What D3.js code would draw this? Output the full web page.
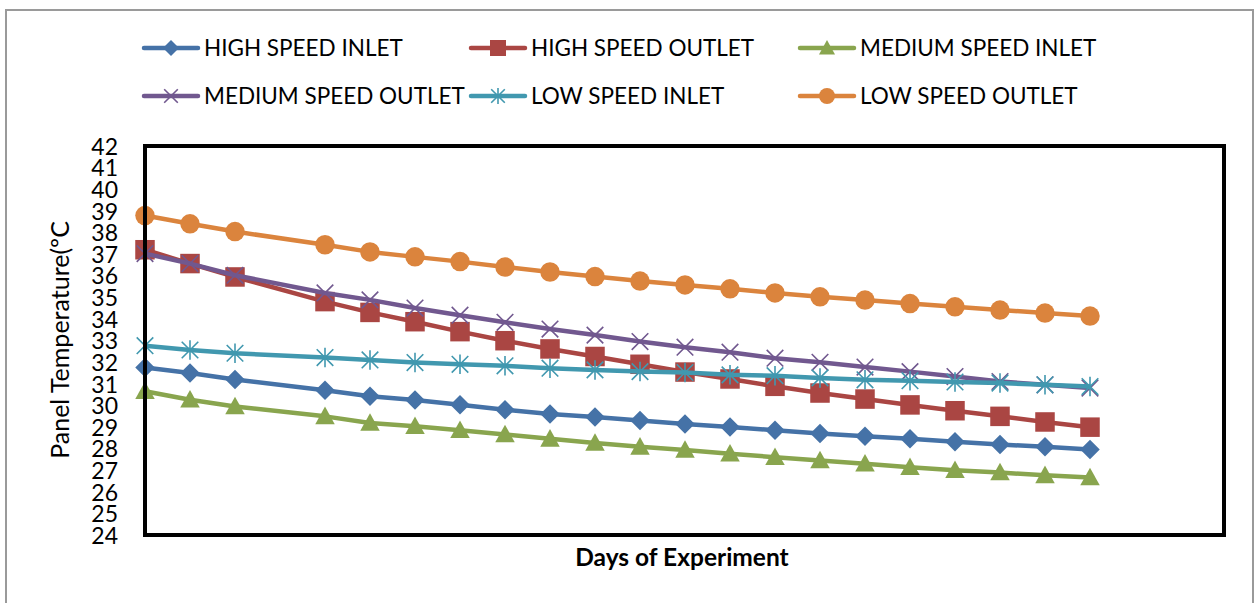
<!DOCTYPE html>
<html>
<head>
<meta charset="utf-8">
<script src="https://cdn.jsdelivr.net/npm/d3@7/dist/d3.min.js"></script>
<style>
  html, body { margin: 0; padding: 0; background: #ffffff; }
  svg { display: block; }
  text { font-family: Lato, "Open Sans", sans-serif; fill: #000; }
</style>
</head>
<body>
<svg id="chart" width="1259" height="603"></svg>
<script>
// Day categories along the horizontal axis (labels are not displayed)
const days = [1, 2, 3, 4, 5, 6, 7, 8, 9, 10, 11, 12, 13, 14, 15, 16, 17, 18, 19, 20, 21, 22, 23, 24, 25];

// Panel temperatures (ºC); day 4 has no reading
const highSpeedInlet    = [31.75, 31.5, 31.2, null, 30.7, 30.42, 30.25, 30.03, 29.8, 29.6, 29.46, 29.3, 29.14, 29.0, 28.85, 28.7, 28.57, 28.45, 28.31, 28.19, 28.08, 27.96];
const highSpeedOutlet   = [37.2, 36.56, 35.94, null, 34.8, 34.3, 33.87, 33.41, 32.99, 32.61, 32.26, 31.9, 31.54, 31.22, 30.88, 30.57, 30.29, 30.02, 29.75, 29.49, 29.23, 28.99];
const mediumSpeedInlet  = [30.65, 30.26, 29.95, null, 29.49, 29.18, 29.03, 28.85, 28.65, 28.45, 28.26, 28.08, 27.93, 27.76, 27.6, 27.45, 27.3, 27.14, 27.0, 26.89, 26.76, 26.66];
const mediumSpeedOutlet = [37.02, 36.56, 36.02, null, 35.2, 34.88, 34.5, 34.17, 33.84, 33.53, 33.25, 32.95, 32.69, 32.46, 32.18, 31.99, 31.77, 31.56, 31.33, 31.1, 30.95, 30.8];
const lowSpeedInlet     = [32.76, 32.56, 32.41, null, 32.21, 32.1, 31.98, 31.9, 31.83, 31.72, 31.64, 31.56, 31.52, 31.41, 31.37, 31.27, 31.18, 31.14, 31.08, 31.03, 30.95, 30.87];
const lowSpeedOutlet    = [38.78, 38.4, 38.04, null, 37.43, 37.1, 36.87, 36.65, 36.4, 36.17, 35.96, 35.75, 35.57, 35.39, 35.2, 35.02, 34.87, 34.71, 34.56, 34.41, 34.27, 34.13];

const seriesNames = ["HIGH SPEED INLET", "HIGH SPEED OUTLET", "MEDIUM SPEED INLET",
                     "MEDIUM SPEED OUTLET", "LOW SPEED INLET", "LOW SPEED OUTLET"];
const yTicks = [24, 25, 26, 27, 28, 29, 30, 31, 32, 33, 34, 35, 36, 37, 38, 39, 40, 41, 42];

const series = [
  { name: seriesNames[0], values: highSpeedInlet,    color: "#4572A7", marker: "diamond" },
  { name: seriesNames[1], values: highSpeedOutlet,   color: "#AA4643", marker: "square" },
  { name: seriesNames[2], values: mediumSpeedInlet,  color: "#89A54E", marker: "triangle" },
  { name: seriesNames[3], values: mediumSpeedOutlet, color: "#71588F", marker: "x" },
  { name: seriesNames[4], values: lowSpeedInlet,     color: "#4198AF", marker: "star" },
  { name: seriesNames[5], values: lowSpeedOutlet,    color: "#DB843D", marker: "circle" }
];

const svg = d3.select("#chart");

// Chart area outline
svg.append("rect")
  .attr("x", 6).attr("y", 10).attr("width", 1247).attr("height", 620)
  .attr("fill", "#fff").attr("stroke", "#9a9a9a").attr("stroke-width", 2);

const plot = { left: 145, top: 146, right: 1224, bottom: 535 };

const x = d3.scalePoint().domain(days).range([plot.left, plot.left + 45 * (days.length - 1)]);
const y = d3.scaleLinear().domain([24, 42]).range([plot.bottom, plot.top]);

// Y axis labels
const yAxis = d3.axisLeft(y).tickValues(yTicks).tickSize(0).tickPadding(0).tickFormat(d3.format("d"));
const yg = svg.append("g").attr("transform", `translate(${plot.left - 27},0)`).call(yAxis);
yg.select(".domain").remove();
yg.selectAll("text").style("font-size", "23px").style("font-family", "Lato, sans-serif").attr("dy", "0.36em");

// Marker shapes
function drawMarker(g, type, color, s) {
  const h = s / 2;
  if (type === "diamond") {
    g.append("path").attr("d", `M0,${-h}L${h},0L0,${h}L${-h},0Z`).attr("fill", color);
  } else if (type === "square") {
    g.append("rect").attr("x", -h).attr("y", -h).attr("width", s).attr("height", s).attr("fill", color);
  } else if (type === "triangle") {
    g.append("path").attr("d", `M0,${-h}L${h},${h * 0.8}L${-h},${h * 0.8}Z`).attr("fill", color);
  } else if (type === "circle") {
    g.append("circle").attr("r", h).attr("fill", color);
  } else if (type === "x") {
    g.append("path").attr("d", `M${-h * 0.85},${-h * 0.85}L${h * 0.85},${h * 0.85}M${h * 0.85},${-h * 0.85}L${-h * 0.85},${h * 0.85}`)
      .attr("stroke", color).attr("stroke-width", 1.6).attr("fill", "none");
  } else if (type === "star") {
    g.append("path").attr("d", `M${-h * 0.85},${-h * 0.85}L${h * 0.85},${h * 0.85}M${h * 0.85},${-h * 0.85}L${-h * 0.85},${h * 0.85}M0,${-h}L0,${h}`)
      .attr("stroke", color).attr("stroke-width", 1.6).attr("fill", "none");
  }
}

// Series lines and markers
const line = d3.line().x(d => x(d.day)).y(d => y(d.v));
series.forEach(s => {
  const pts = s.values.map((v, i) => ({ day: days[i], v })).filter(d => d.v !== null);
  const g = svg.append("g");
  g.append("path").attr("d", line(pts)).attr("fill", "none")
    .attr("stroke", s.color).attr("stroke-width", 4.5).attr("stroke-linejoin", "round");
  pts.forEach(d => {
    const m = g.append("g").attr("transform", `translate(${x(d.day)},${y(d.v)})`);
    drawMarker(m, s.marker, s.color, 19.5);
  });
});

// Plot frame
svg.append("rect")
  .attr("x", plot.left).attr("y", plot.top)
  .attr("width", plot.right - plot.left).attr("height", plot.bottom - plot.top)
  .attr("fill", "none").attr("stroke", "#000").attr("stroke-width", 4);

// Axis titles
svg.append("text")
  .attr("x", 682).attr("y", 566)
  .attr("text-anchor", "middle")
  .style("font-size", "24.5px").style("font-weight", "bold")
  .text("Days of Experiment");

svg.append("text")
  .attr("transform", "translate(69,340) rotate(-90)")
  .attr("text-anchor", "middle")
  .style("font-size", "25px")
  .text("Panel Temperature(ºC");

// Legend
const legendCols = [144, 471, 800];
const legendRows = [48, 96];
series.forEach((s, i) => {
  const lx = legendCols[i % 3], ly = legendRows[Math.floor(i / 3)];
  const g = svg.append("g").attr("transform", `translate(${lx},${ly})`);
  g.append("line").attr("x1", 0).attr("x2", 54).attr("y1", 0).attr("y2", 0)
    .attr("stroke", s.color).attr("stroke-width", 4.5).attr("stroke-linecap", "round");
  const m = g.append("g").attr("transform", "translate(27,0)");
  drawMarker(m, s.marker, s.color, 16);
  g.append("text").attr("x", 60).attr("y", 8)
    .style("font-size", "22.5px")
    .text(s.name);
});
</script>
</body>
</html>
